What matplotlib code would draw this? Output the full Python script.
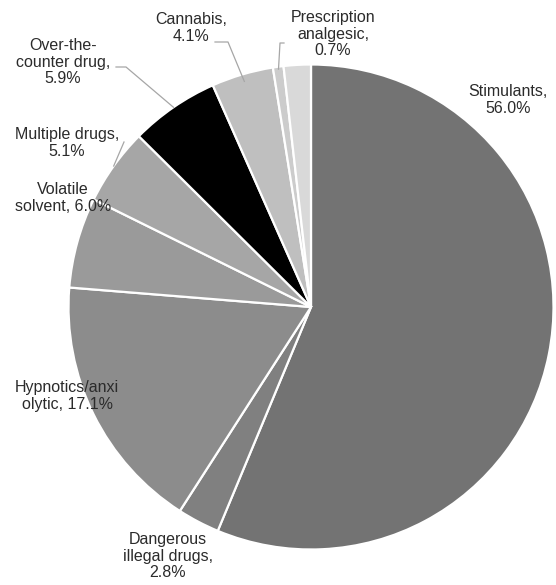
import numpy as np
import matplotlib
matplotlib.use("Agg")
import matplotlib.pyplot as plt

# ---- data ----
categories = ["Stimulants", "Dangerous illegal drugs", "Hypnotics/anxiolytic",
              "Volatile solvent", "Multiple drugs", "Over-the-counter drug",
              "Cannabis", "Prescription analgesic", "Other"]
values = [56.0, 2.8, 17.1, 6.0, 5.1, 5.9, 4.1, 0.7, 1.8]
label_texts = ["Stimulants,\n56.0%", "Dangerous\nillegal drugs,\n2.8%",
               "Hypnotics/anxi\nolytic, 17.1%", "Volatile\nsolvent, 6.0%",
               "Multiple drugs,\n5.1%", "Over-the-\ncounter drug,\n5.9%",
               "Cannabis,\n4.1%", "Prescription\nanalgesic,\n0.7%", None]
colors = ["#737373", "#808080", "#8c8c8c", "#9a9a9a", "#a6a6a6", "#000000",
          "#bfbfbf", "#cccccc", "#d9d9d9"]

W, H = 556, 585
fig = plt.figure(figsize=(W / 100, H / 100), dpi=100)
ax = fig.add_axes([0, 0, 1, 1])

def Y(y):
    return H - y

cx, cy, R = 311, 307, 242.5
wedges, _ = ax.pie(values, colors=colors, startangle=90, counterclock=False,
                   center=(cx, Y(cy)), radius=R,
                   wedgeprops=dict(edgecolor="white", linewidth=1.6))
ax.set_xlim(0, W)
ax.set_ylim(0, H)
ax.set_aspect("equal")
ax.axis("off")

# label positions (pixel, top-origin) - layout only
label_pos = [(508, 100), (168, 556), (67, 396), (63, 198), (67, 143),
             (63, 62), (191, 28), (333, 34), None]
txt_color = "#2b2b2b"
for lt, pos in zip(label_texts, label_pos):
    if lt is None:
        continue
    ax.text(pos[0], Y(pos[1]), lt, ha="center", va="center", fontsize=11.5,
            family="Liberation Sans", color=txt_color, linespacing=1.15)

def edge_point(w, frac=1.0):
    mid = np.deg2rad((w.theta1 + w.theta2) / 2)
    return cx + R * frac * np.cos(mid), Y(cy) + R * frac * np.sin(mid)

lc = "#a6a6a6"
# leader lines
# Over-the-counter
ex, ey = edge_point(wedges[5])
ax.plot([116, 126, ex], [Y(67), Y(67), ey], color=lc, lw=0.9)
# Multiple drugs
ex, ey = edge_point(wedges[4])
ax.plot([124, ex], [Y(142), ey], color=lc, lw=0.9)
# Cannabis
ex, ey = edge_point(wedges[6], 0.97)
ax.plot([215, 228, ex], [Y(42), Y(42), ey], color=lc, lw=0.9)
# Prescription analgesic
ex, ey = edge_point(wedges[7], 0.99)
ax.plot([284, 280, ex], [Y(43), Y(43), ey], color=lc, lw=0.9)

fig.savefig("out.png", dpi=100)
